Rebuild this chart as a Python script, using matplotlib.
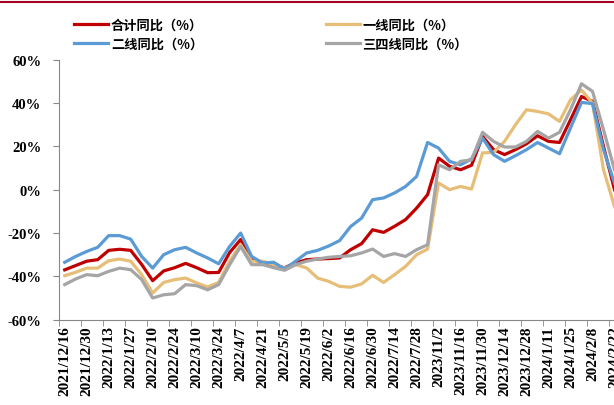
import matplotlib
matplotlib.use('Agg')
import matplotlib.pyplot as plt
from matplotlib.lines import Line2D
from matplotlib.ticker import FuncFormatter
import pandas as pd

plt.rcParams['font.family'] = ['Noto Sans CJK SC', 'DejaVu Sans']

# weekly dates, two segments
DATES = ([d.strftime('%Y/%-m/%-d') for d in pd.date_range('2021-12-16', '2022-07-28', freq='7D')]
         + [d.strftime('%Y/%-m/%-d') for d in pd.date_range('2023-10-26', '2024-02-22', freq='7D')])

TOTAL = [-37, -35, -33, -32.3, -28, -27.5, -28, -34.5, -42, -37.5,
         -36, -34, -36, -38.3, -38.2, -29, -23, -32, -33.8, -35,
         -36, -33.8, -32.3, -32, -31.8, -31.5, -27.7, -24.9, -18.5, -19.7,
         -16.9, -13.8, -8.5, -2.3, 14.6, 10.8, 9.2, 11.3, 24.6, 18.5,
         16.2, 18.5, 21.2, 24.9, 22.3, 21.8, 32.3, 43, 40.8, 20,
         0]

TIER1 = [-39.7, -38.1, -36.2, -36.2, -32.8, -32, -33, -39.2, -47.7, -42.8,
         -41.5, -40.8, -43, -44.9, -42.8, -33, -25.4, -33, -33, -34.6,
         -36.1, -34.6, -36.1, -40.8, -42.3, -44.6, -45, -43.5, -39.5, -42.8,
         -39.2, -35.4, -30, -27.4, 3.1, 0, 1.5, 0.3, 17, 17.2,
         22.3, 30, 36.9, 36.1, 35, 31.5, 41.5, 46, 40, 9.2,
         -7.7]

TIER2 = [-33.5, -30.8, -28.5, -26.6, -21.2, -21.2, -22.8, -30.8, -36.2, -30,
         -27.7, -26.6, -29.2, -31.5, -34.2, -26.2, -20, -30.8, -33.8, -33.5,
         -36.6, -33, -29.2, -28, -26, -23.5, -17, -13.1, -4.6, -3.8,
         -1.5, 1.5, 6.1, 21.8, 19.2, 13.1, 11.5, 14.2, 23.8, 16.2,
         13.1, 15.7, 18.5, 21.8, 19.2, 16.6, 28.5, 40.3, 39.7, 18.5,
         3]

TIER34 = [-43.8, -41.2, -39.2, -39.7, -37.7, -36.2, -36.9, -41.5, -50, -48.5,
          -48, -43.8, -44.3, -46.2, -43.8, -34.6, -26.2, -34.6, -34.6, -36,
          -37.2, -34.6, -33, -32, -31.2, -30.8, -30.5, -29.2, -27.4, -30.8,
          -29.5, -30.8, -27.7, -25.4, 11.5, 9.2, 13.1, 13.8, 26.5, 22.3,
          19.7, 19.7, 22.3, 26.9, 23.8, 26.5, 36.9, 48.9, 45.4, 27.7,
          9.2]

NAMES = ['合计同比（%）', '一线同比（%）', '二线同比（%）', '三四线同比（%）']
COLORS = ['#C00000', '#E6BE78', '#5B9BD5', '#A5A5A5']

fig = plt.figure(figsize=(6.14, 4.06), dpi=100)
ax = fig.add_axes([59.2 / 614, 85.3 / 406, 560.8 / 614, 260 / 406])

x = range(len(DATES))
lines = []
for series, name, color in zip([TOTAL, TIER1, TIER2, TIER34], NAMES, COLORS):
    ln, = ax.plot(x, series, color=color, lw=2.3, label=name, solid_joinstyle='round')
    lines.append(ln)

ax.set_xlim(-0.5, len(DATES) - 0.5)
ax.set_ylim(-60, 60)
ax.set_yticks(range(-60, 61, 20))
ax.yaxis.set_major_formatter(FuncFormatter(lambda v, p: f'{int(v)}%'))

ax.set_xticks(list(x)[::2])
ax.set_xticklabels(DATES[::2], rotation=90, va='top', ha='center')
ax.set_xticks([i - 0.5 for i in range(0, len(DATES) + 1, 2)], minor=True)
ax.tick_params(axis='x', which='major', length=0, pad=4)
ax.tick_params(axis='x', which='minor', length=4, color='#888888', direction='out')
ax.tick_params(axis='y', length=4, color='#888888', pad=9)

for lab in ax.get_xticklabels() + ax.get_yticklabels():
    lab.set_family('Liberation Serif')
    lab.set_weight('bold')
for lab in ax.get_xticklabels():
    lab.set_fontsize(11)
for lab in ax.get_yticklabels():
    lab.set_fontsize(10.5)

for s in ['top', 'right']:
    ax.spines[s].set_visible(False)
ax.spines['left'].set_color('#888888')
ax.spines['bottom'].set_color('#888888')

# legend fills column by column: total / tier2 left, tier1 / tier3-4 right
fig.legend(handles=[lines[0], lines[2], lines[1], lines[3]], ncol=2,
           loc='upper left', bbox_to_anchor=(62 / 614, 1 - 7 / 406),
           frameon=False, handlelength=2.6, handletextpad=0.2,
           columnspacing=9.3, labelspacing=0.35,
           prop={'family': 'Noto Sans CJK SC', 'weight': 'bold', 'size': 9.5})

# thin rule along the top edge
fig.add_artist(Line2D([0, 1], [1 - 2.5 / 406] * 2, transform=fig.transFigure,
                      color='#A50021', lw=1.5))

fig.savefig('out.png', dpi=100)
